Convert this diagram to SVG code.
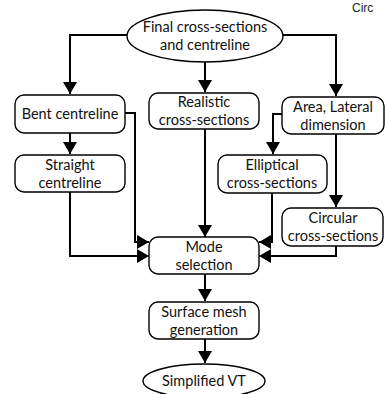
<svg xmlns="http://www.w3.org/2000/svg" width="385" height="394" viewBox="0 0 385 394">
<defs>
<marker id="ah" markerUnits="userSpaceOnUse" markerWidth="12" markerHeight="14" refX="12" refY="7" orient="auto">
<path d="M0,0 L12,7 L0,14 z" fill="#000"/>
</marker>
<style>
.n{fill:#fff;stroke:#000;stroke-width:1.4}
.t{font-family:Lato,"Liberation Sans",sans-serif;font-size:14.5px;fill:#111;text-anchor:middle}
.c{fill:none;stroke:#000;stroke-width:2;marker-end:url(#ah)}
</style>
</defs>
<rect width="385" height="394" fill="#fff"/>
<text x="352" y="12" font-family="Liberation Sans,sans-serif" font-size="12" fill="#222">Circ</text>
<g id="connectors">
<path class="c" d="M127,35 H70 V94"/>
<path class="c" d="M205,62 V92"/>
<path class="c" d="M283,35 H336 V96"/>
<path class="c" d="M70,133 V154"/>
<path class="c" d="M125,113 H135 V242 H149"/>
<path class="c" d="M70,192 V256 H149"/>
<path class="c" d="M205,129 V237"/>
<path class="c" d="M282,114 H273 V154"/>
<path class="c" d="M336,134 V207"/>
<path class="c" d="M272,193 V242 H259"/>
<path class="c" d="M336,246 V256 H259"/>
<path class="c" d="M205,274 V301"/>
<path class="c" d="M205,339 V363"/>
</g>
<g id="final">
<ellipse class="n" cx="205" cy="36" rx="78" ry="26"/>
<text class="t" x="205" y="32">Final cross-sections</text>
<text class="t" x="205" y="50">and centreline</text>
</g>
<g id="bent">
<rect class="n" x="15" y="95" width="110" height="38" rx="9"/>
<text class="t" x="70" y="119">Bent centreline</text>
</g>
<g id="realistic">
<rect class="n" x="149" y="93" width="110" height="36" rx="9"/>
<text class="t" x="204" y="107">Realistic</text>
<text class="t" x="204" y="125">cross-sections</text>
</g>
<g id="area">
<rect class="n" x="282" y="97" width="102" height="37" rx="9"/>
<text class="t" x="333" y="112">Area, Lateral</text>
<text class="t" x="333" y="130">dimension</text>
</g>
<g id="straight">
<rect class="n" x="15" y="155" width="110" height="37" rx="9"/>
<text class="t" x="70" y="170">Straight</text>
<text class="t" x="70" y="188">centreline</text>
</g>
<g id="elliptical">
<rect class="n" x="218" y="155" width="109" height="38" rx="9"/>
<text class="t" x="272" y="170">Elliptical</text>
<text class="t" x="272" y="188">cross-sections</text>
</g>
<g id="circular">
<rect class="n" x="282" y="208" width="101" height="38" rx="9"/>
<text class="t" x="333" y="223">Circular</text>
<text class="t" x="333" y="241">cross-sections</text>
</g>
<g id="mode">
<rect class="n" x="149" y="237" width="110" height="37" rx="9"/>
<text class="t" x="204" y="252">Mode</text>
<text class="t" x="204" y="270">selection</text>
</g>
<g id="surface">
<rect class="n" x="149" y="302" width="110" height="37" rx="9"/>
<text class="t" x="204" y="317">Surface mesh</text>
<text class="t" x="204" y="335">generation</text>
</g>
<g id="simplified">
<ellipse class="n" cx="204" cy="381" rx="61" ry="17"/>
<text class="t" x="204" y="386">Simplified VT</text>
</g>
</svg>
